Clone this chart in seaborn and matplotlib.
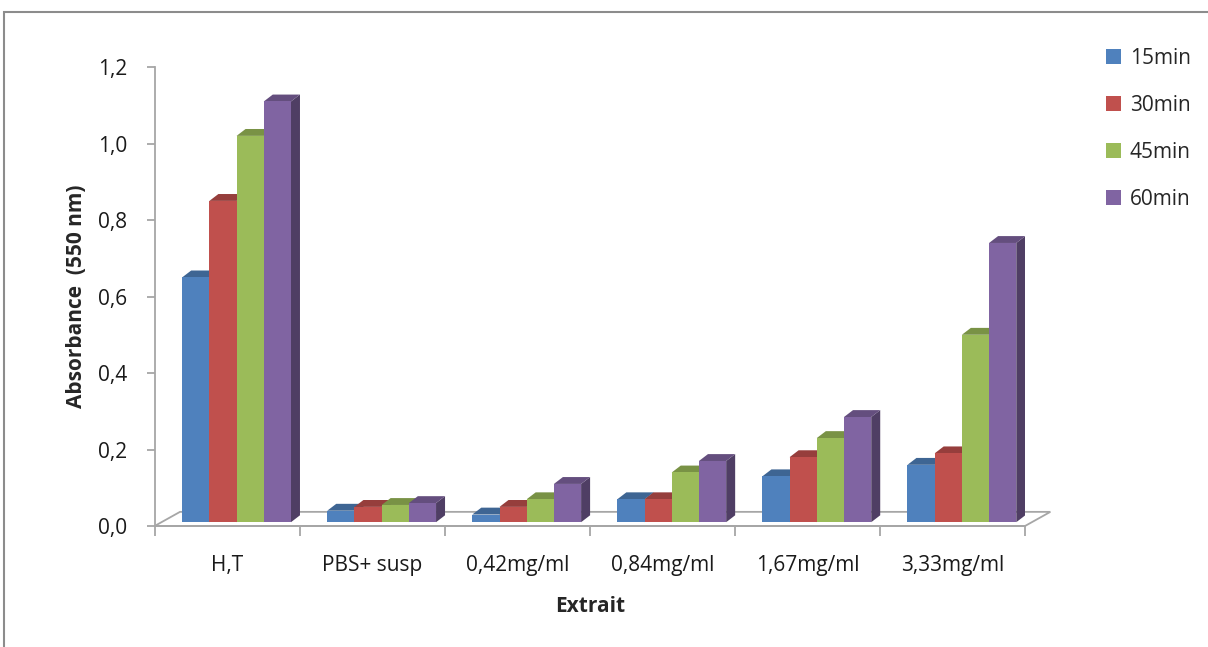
import matplotlib
matplotlib.use("Agg")
import matplotlib.pyplot as plt
import matplotlib.colors as mcolors
from matplotlib.patches import Polygon, Rectangle
from matplotlib.ticker import FixedLocator
import numpy as np
import pandas as pd
import seaborn as sns

# Absorbance at 550 nm per extract and incubation time
categories = ["H,T", "PBS+ susp", "0,42mg/ml", "0,84mg/ml", "1,67mg/ml", "3,33mg/ml"]
series = ["15min", "30min", "45min", "60min"]
abs_15 = [0.64, 0.03, 0.02, 0.06, 0.12, 0.15]
abs_30 = [0.84, 0.04, 0.04, 0.06, 0.17, 0.18]
abs_45 = [1.01, 0.045, 0.06, 0.13, 0.22, 0.49]
abs_60 = [1.10, 0.05, 0.10, 0.16, 0.275, 0.73]
yticks = [0.0, 0.2, 0.4, 0.6, 0.8, 1.0, 1.2]
colors = ["#4F81BD", "#C0504D", "#9BBB59", "#8064A2"]

df = pd.DataFrame({
    "Extrait": categories * len(series),
    "Temps": sum([[s] * len(categories) for s in series], []),
    "Absorbance": abs_15 + abs_30 + abs_45 + abs_60,
})

sns.set_theme(style="white")
plt.rcParams["font.family"] = ["Open Sans", "DejaVu Sans"]
FS = 15

fig = plt.figure(figsize=(12.08, 6.47), dpi=100)
ax = fig.add_axes([0.128, 0.187, 0.7205, 0.7094])

sns.barplot(data=df, x="Extrait", y="Absorbance", hue="Temps",
            order=categories, hue_order=series, palette=colors,
            width=0.75, saturation=1, errorbar=None, ax=ax, legend=False)

ax.set_xlim(-0.5, len(categories) - 0.5)
ax.set_ylim(0, 1.2)

# pseudo-3D depth of the bars and of the floor (data units)
bar_dx, bar_dy = 0.062, 0.018
shift_x, lift_y = 0.065, 0.010
floor_dx, floor_dy = 0.175, 0.037

def shade(c, f):
    r, g, b = mcolors.to_rgb(c)
    return (r * f, g * f, b * f)

n = len(categories)
for i, patch in enumerate(ax.patches[: n * len(series)]):
    h_idx = i // n
    base = colors[h_idx]
    patch.set_x(patch.get_x() + shift_x)
    patch.set_y(lift_y)
    patch.set_zorder(3 + 2 * h_idx)
    patch.set_edgecolor("none")
    x0 = patch.get_x()
    y0 = patch.get_y()
    w = patch.get_width()
    h = patch.get_height()
    side = Polygon([(x0 + w, y0), (x0 + w + bar_dx, y0 + bar_dy),
                    (x0 + w + bar_dx, y0 + h + bar_dy), (x0 + w, y0 + h)],
                   closed=True, facecolor=shade(base, 0.62), edgecolor="none",
                   zorder=2 + 2 * h_idx)
    top = Polygon([(x0, y0 + h), (x0 + bar_dx, y0 + h + bar_dy),
                   (x0 + w + bar_dx, y0 + h + bar_dy), (x0 + w, y0 + h)],
                  closed=True, facecolor=shade(base, 0.78), edgecolor="none",
                  zorder=2 + 2 * h_idx)
    ax.add_patch(side)
    ax.add_patch(top)

# floor of the 3D box
x_lo, x_hi = -0.5, n - 0.5
floor = Polygon([(x_lo, 0), (x_lo + floor_dx, floor_dy),
                 (x_hi + floor_dx, floor_dy), (x_hi, 0)],
                closed=True, facecolor="white", edgecolor="#A6A6A6",
                linewidth=1.3, zorder=1, clip_on=False)
ax.add_patch(floor)

# axes styling
for s in ["top", "right"]:
    ax.spines[s].set_visible(False)
for s in ["left", "bottom"]:
    ax.spines[s].set_color("#A6A6A6")
    ax.spines[s].set_linewidth(1.3)

ax.set_yticks(yticks)
ax.set_yticklabels([f"{v:.1f}".replace(".", ",") for v in yticks])
ax.tick_params(axis="y", which="major", left=True, length=6, width=1.3,
               color="#A6A6A6", labelsize=FS, labelcolor="#1a1a1a", pad=13.5)
ax.tick_params(axis="x", which="major", bottom=False, length=0,
               labelsize=FS, labelcolor="#1a1a1a", pad=21)
ax.xaxis.set_minor_locator(FixedLocator(np.arange(-0.5, n, 1.0)))
ax.tick_params(axis="x", which="minor", bottom=True, length=7, width=1.3,
               color="#A6A6A6")

ax.set_xlabel("Extrait", fontsize=FS, fontweight="bold", labelpad=14)
ax.set_ylabel("Absorbance  (550 nm)", fontsize=FS, fontweight="bold",
              labelpad=8)

handles = [Rectangle((0, 0), 1, 1, facecolor=c, edgecolor="none") for c in colors]
fig.legend(handles, series, loc="upper left", bbox_to_anchor=(0.900, 0.955),
           frameon=False, fontsize=FS, handlelength=0.7, handleheight=0.7,
           handletextpad=0.45, labelspacing=1.25)

# chart area border
fig.patches.append(Rectangle((4 / 1208, -0.1), 1.2, 1.1 - 12 / 647,
                             transform=fig.transFigure, facecolor="none",
                             edgecolor="#8C8C8C", linewidth=1.5))

fig.savefig("out.png", dpi=100)
